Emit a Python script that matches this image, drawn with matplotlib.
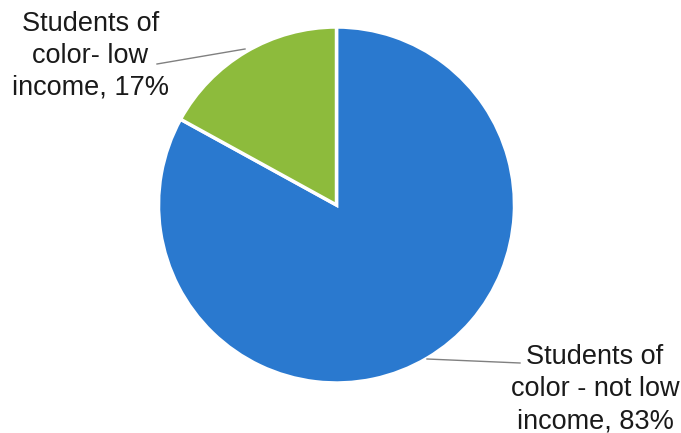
import matplotlib
matplotlib.use("Agg")
import matplotlib.pyplot as plt

categories = ["Students of\ncolor - not low\nincome", "Students of\ncolor- low\nincome"]
shares = [83, 17]
colors = ["#2a79cf", "#8dbb3c"]

W, H = 681, 433
fig = plt.figure(figsize=(W / 100, H / 100), dpi=100)
ax = fig.add_axes([0, 0, 1, 1])

cx, cy, r = 336.5, H - 205, 178
ax.pie(shares, colors=colors, startangle=90, counterclock=False,
       center=(cx, cy), radius=r, frame=True,
       wedgeprops=dict(edgecolor="white", linewidth=2.5))
ax.set_xlim(0, W)
ax.set_ylim(0, H)
ax.set_aspect("equal")
ax.axis("off")

font = dict(family="Liberation Sans", size=19.5, color="#1a1a1a",
            ha="center", va="baseline", linespacing=1.3)

labels = [f"{c}, {v}%" for c, v in zip(categories, shares)]

# leader lines
ax.plot([427, 520], [H - 359, H - 363], color="#808080", lw=1)
ax.plot([157, 245], [H - 64, H - 49], color="#808080", lw=1)

# multi-line text: baseline alignment anchors the last line
ax.text(595, H - 428, labels[0], **font)
ax.text(90.5, H - 95, labels[1], **font)

fig.savefig("out.png", dpi=100)
